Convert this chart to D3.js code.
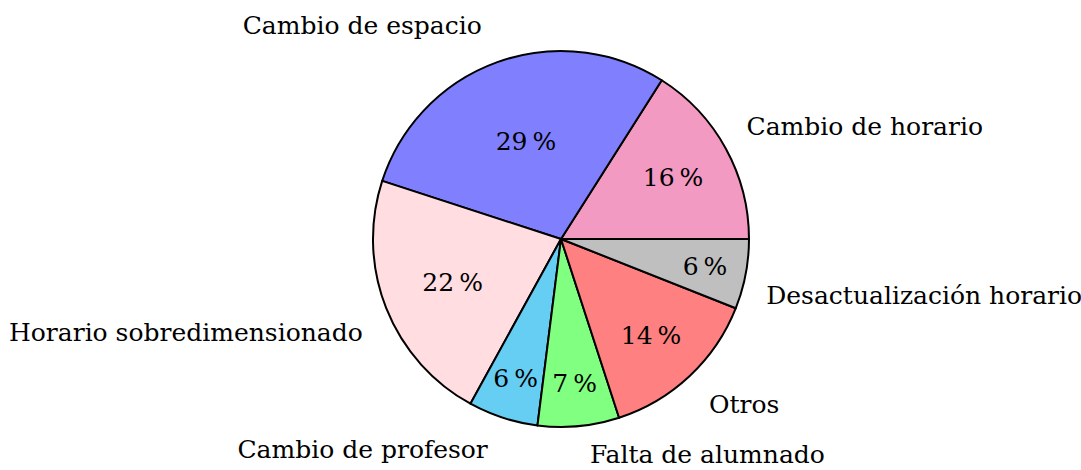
<!DOCTYPE html>
<html>
<head>
<meta charset="utf-8">
<script src="https://cdn.jsdelivr.net/npm/d3@7"></script>
<style>
  body { margin: 0; background: #fff; }
  text { font-family: "DejaVu Serif", serif; fill: #000; }
</style>
</head>
<body>
<svg width="1081" height="470"></svg>
<script>
// slice data, counterclockwise from east
const categories = ['Cambio de horario', 'Cambio de espacio', 'Horario sobredimensionado',
  'Cambio de profesor', 'Falta de alumnado', 'Otros', 'Desactualización horario'];
const values = [16, 29, 22, 6, 7, 14, 6];
const colors = ['#f39ac3', '#8080ff', '#ffdde1', '#66cdf3', '#80ff80', '#ff8080', '#bfbfbf'];

const svg = d3.select('svg');
const height = 470;
const cx = 561, cy = 239, radius = 188;
const total = d3.sum(values);

// angles in math convention (radians, ccw from east)
const data = [];
let acc = 0;
values.forEach(function(v, i) {
  const a0 = acc / total * 2 * Math.PI;
  acc += v;
  const a1 = acc / total * 2 * Math.PI;
  data.push({ name: categories[i], value: v, color: colors[i], a0: a0, a1: a1, mid: (a0 + a1) / 2 });
});

// d3.arc uses clockwise-from-north, so convert
const arc = d3.arc().innerRadius(0).outerRadius(radius);
const g = svg.append('g').attr('transform', 'translate(' + cx + ',' + cy + ')');

g.selectAll('path')
  .data(data)
  .enter().append('path')
  .attr('d', function(d) {
    return arc({ startAngle: Math.PI / 2 - d.a1, endAngle: Math.PI / 2 - d.a0 });
  })
  .attr('fill', function(d) { return d.color; })
  .attr('stroke', '#000')
  .attr('stroke-width', 2)
  .attr('stroke-linejoin', 'round');

// percent labels (smaller slices get pushed outward)
g.selectAll('text.pct')
  .data(data)
  .enter().append('text')
  .attr('class', 'pct')
  .attr('x', function(d) { return radius * (0.84 - d.value / total) * Math.cos(d.mid); })
  .attr('y', function(d) { return -radius * (0.84 - d.value / total) * Math.sin(d.mid); })
  .attr('text-anchor', 'middle')
  .attr('dy', '0.35em')
  .style('font-size', '25px')
  .text(function(d) { return d.value + '\u2009%'; });

// outside labels
const labelR = 213;
g.selectAll('text.lbl')
  .data(data)
  .enter().append('text')
  .attr('class', 'lbl')
  .attr('x', function(d) {
    const c = Math.cos(d.mid), s = Math.abs(Math.sin(d.mid));
    let x = labelR * c + Math.sign(c) * 9 * Math.pow(s, 4);
    if (c > 0) x -= 6 * (1 - s) * (1 - s);
    return x;
  })
  .attr('y', function(d) {
    const s = Math.sin(d.mid);
    const y = -labelR * s + (s > 0 ? -(6 + 8 * s) : 19 - 12 * Math.abs(s));
    // keep the bottom label inside the picture
    return Math.min(y, height - cy - 16);
  })
  .attr('text-anchor', function(d) { return Math.cos(d.mid) >= 0 ? 'start' : 'end'; })
  .attr('dy', '0.35em')
  .style('font-size', '25px')
  .text(function(d) { return d.name; });
</script>
</body>
</html>
